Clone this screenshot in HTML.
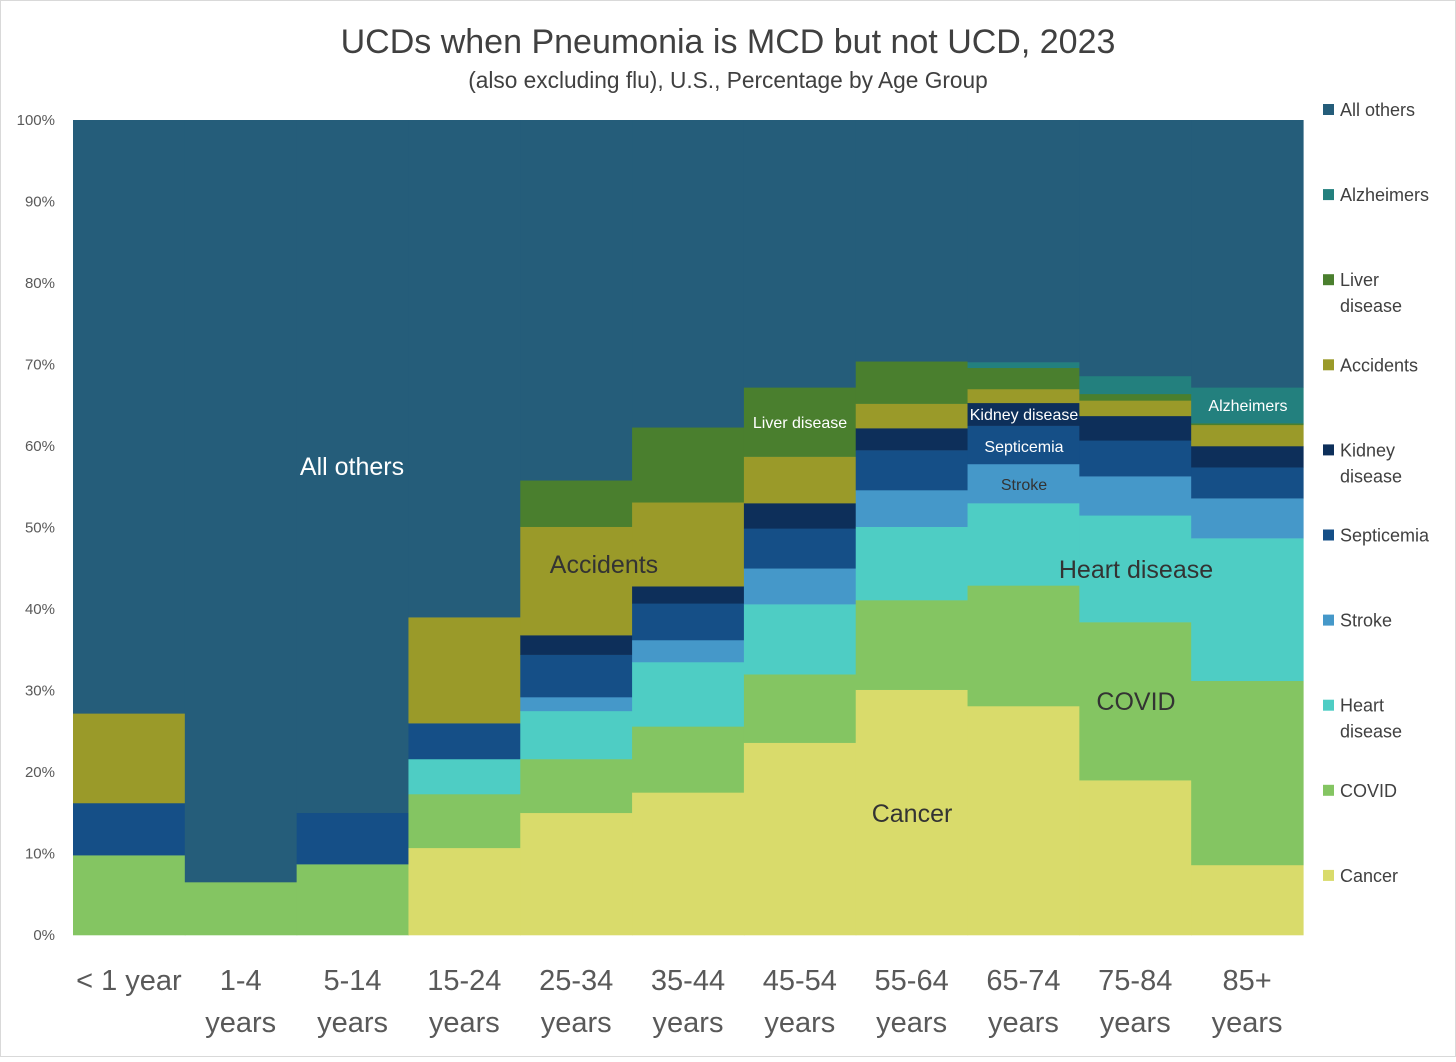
<!DOCTYPE html>
<html><head><meta charset="utf-8"><style>
body{margin:0;background:#fff;font-family:"Liberation Sans",sans-serif;}
svg text{font-family:"Liberation Sans",sans-serif;}
</style></head><body>
<svg id="chart" width="1456" height="1057" viewBox="0 0 1456 1057" xmlns="http://www.w3.org/2000/svg">
<rect x="0.5" y="0.5" width="1455" height="1056" fill="#fff" stroke="#d9d9d9"/>
<text x="728" y="53" text-anchor="middle" font-size="34" fill="#404040">UCDs when Pneumonia is MCD but not UCD, 2023</text>
<text x="728" y="88" text-anchor="middle" font-size="22.7" fill="#404040">(also excluding flu), U.S., Percentage by Age Group</text>
<g id="plot"></g><g id="axes"></g><g id="legend"></g><g id="labels"></g>
</svg>
<script>
const categories=[["< 1 year"],["1-4","years"],["5-14","years"],["15-24","years"],["25-34","years"],["35-44","years"],["45-54","years"],["55-64","years"],["65-74","years"],["75-84","years"],["85+","years"]];
const seriesNames=["Cancer","COVID","Heart disease","Stroke","Septicemia","Kidney disease","Accidents","Liver disease","Alzheimers","All others"];
const cancer=[0,0,0,10.7,15.0,17.5,23.6,30.1,28.1,19.0,8.6];
const covid=[9.8,6.5,8.7,6.6,6.6,8.1,8.4,11.0,14.8,19.4,22.6];
const heart=[0,0,0,4.3,5.9,7.9,8.6,9.0,10.1,13.1,17.5];
const stroke=[0,0,0,0,1.7,2.7,4.4,4.5,4.8,4.8,4.9];
const septicemia=[6.4,0,6.3,4.4,5.2,4.5,4.9,4.9,4.7,4.4,3.8];
const kidney=[0,0,0,0,2.4,2.1,3.1,2.7,2.8,3.0,2.6];
const accidents=[11.0,0,0,13.0,13.3,10.3,5.7,3.0,1.7,1.9,2.6];
const liver=[0,0,0,0,5.7,9.2,8.5,5.2,2.6,0.8,0.2];
const alzheimers=[0,0,0,0,0,0,0,0,0.7,2.2,4.4];
const yTicks=[0,10,20,30,40,50,60,70,80,90,100];
const colors=["#d9db6b","#84c562","#4ecdc4","#4598c9","#154f87","#0d2f5a","#9a9a29","#4a7f2e","#23807e","#255d7a"];
const NS="http://www.w3.org/2000/svg";
const X0=73,X1=1303,Y0=935,Y1=120;
const bw=(X1-X0)/categories.length;
const xs=i=>X0+i*bw;
const ys=v=>Y0-(Y0-Y1)*v/100;
function mk(tag,attrs,parent){const e=document.createElementNS(NS,tag);for(const k in attrs)e.setAttribute(k,attrs[k]);parent.appendChild(e);return e;}
const plot=document.getElementById('plot');
const data=[cancer,covid,heart,stroke,septicemia,kidney,accidents,liver,alzheimers];
categories.forEach((c,i)=>{
  let cum=0;
  data.forEach((arr,s)=>{
    const v=arr[i];
    if(v>0){
      const r=mk('rect',{x:xs(i),y:ys(cum+v),width:bw+0.6,height:ys(cum)-ys(cum+v)+0.3,fill:colors[s]},plot);
      
      
    }
    cum+=v;
  });
  const r=mk('rect',{x:xs(i),y:ys(100),width:bw+0.6,height:ys(cum)-ys(100)+0.3,fill:colors[9]},plot);
  
  
});
const axes=document.getElementById('axes');
yTicks.forEach(t=>{
  const e=mk('text',{x:55,y:ys(t)+5,'text-anchor':'end','font-size':15,fill:'#595959'},axes);
  e.textContent=t+'%';
  
  
});
categories.forEach((c,i)=>{
  c.forEach((line,j)=>{
    const e=mk('text',{x:xs(i)+bw/2,y:990+j*42,'text-anchor':'middle','font-size':29,fill:'#595959'},axes);
    e.textContent=line;
    
    
  });
});
const legend=document.getElementById('legend');
const legItems=[["All others"],["Alzheimers"],["Liver","disease"],["Accidents"],["Kidney","disease"],["Septicemia"],["Stroke"],["Heart","disease"],["COVID"],["Cancer"]];
legItems.forEach((it,k)=>{
  const s=9-k;const y=110+k*85.1;
  const g=mk('g',{},legend);
  
  
  mk('rect',{x:1323,y:y-6,width:11,height:11,fill:colors[s]},g);
  it.forEach((l,j)=>{const t=mk('text',{x:1340,y:y+6+j*26,'font-size':18,fill:'#404040'},g);t.textContent=l;});
});
const labels=document.getElementById('labels');
const inl=[["All others",352,475,25,"#fff"],["Accidents",604,573,25,"#333"],["Liver disease",800,428,16,"#fff"],["Kidney disease",1024,420,16,"#fff"],["Septicemia",1024,452,16,"#fff"],["Stroke",1024,490,16,"#333"],["Heart disease",1136,578,25,"#333"],["COVID",1136,710,25,"#333"],["Cancer",912,822,25,"#333"],["Alzheimers",1248,411,16,"#fff"]];
inl.forEach(a=>{
  const t=mk('text',{x:a[1],y:a[2],'text-anchor':'middle','font-size':a[3],fill:a[4]},labels);
  t.textContent=a[0];
  
  
});
</script>
</body></html>
